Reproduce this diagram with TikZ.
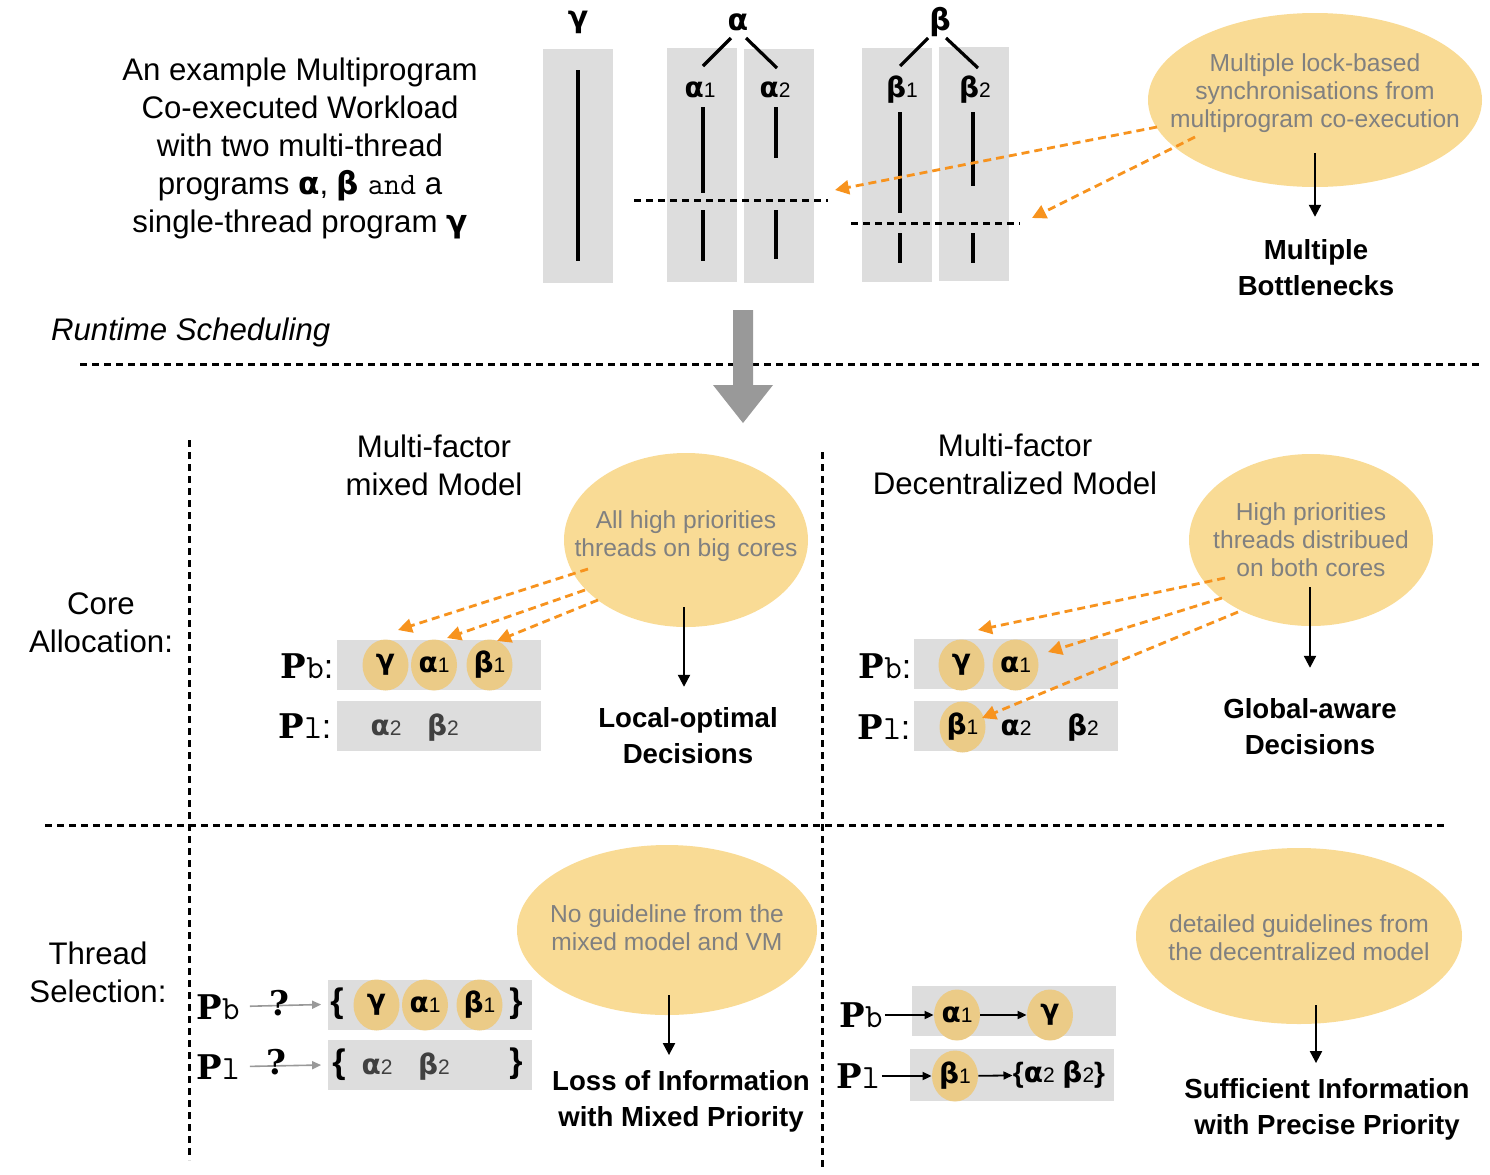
\documentclass[tikz,border=0pt]{standalone}
\usepackage{fontspec}
\setmainfont{Liberation Sans}
\newfontfamily\slabfont{DejaVu Serif}
\newfontfamily\grkfont{DejaVu Sans}
\usetikzlibrary{shapes.geometric,arrows.meta,positioning}

\definecolor{noteyellow}{HTML}{F9DB95}
\definecolor{thryellow}{HTML}{EBCB87}
\definecolor{lanegray}{HTML}{DDDDDD}
\definecolor{notegray}{HTML}{808080}
\definecolor{hintorange}{HTML}{F7931E}
\definecolor{bigarrowgray}{HTML}{999999}

% thread label: bold greek letter + small index
\newcommand{\thd}[2]{{\grkfont\bfseries #1}{\fontsize{10.5}{10.5}\selectfont #2}}
% core label: slab P + typewriter index
\newcommand{\core}[2]{{\slabfont\bfseries P}{\ttfamily #1}#2}

\tikzset{
  note/.style={ellipse, fill=noteyellow, inner sep=0pt},
  notetext/.style={text=notegray, align=center, font=\fontsize{12.3}{14}\selectfont},
  verdict/.style={align=center, font=\bfseries\fontsize{13.8}{18}\selectfont},
  head/.style={align=center, font=\fontsize{15.6}{19}\selectfont},
  bar/.style={fill=lanegray, minimum width=35pt, minimum height=117pt, inner sep=0pt},
  lane/.style={fill=lanegray, minimum width=102pt, minimum height=25pt, inner sep=0pt},
  thr/.style={ellipse, fill=thryellow, minimum width=23pt, minimum height=25.5pt, inner sep=0pt, font=\fontsize{14}{14}\selectfont},
  thrtxt/.style={inner sep=0pt, font=\fontsize{14}{14}\selectfont},
  corelbl/.style={inner sep=1pt, font=\fontsize{17}{17}\selectfont},
  hint/.style={hintorange, line width=1.4pt, dash pattern=on 4pt off 2.5pt, -{Triangle[length=7pt,width=7pt]}},
  down/.style={line width=1.1pt, -{Triangle[length=6pt,width=6pt]}},
  pass/.style={line width=0.9pt, -{Triangle[length=4.5pt,width=4pt]}},
  ask/.style={bigarrowgray, line width=0.8pt, -{Triangle[length=4.5pt,width=4pt]}},
  sep/.style={line width=1.5pt, dash pattern=on 3.5pt off 2.5pt},
  seam/.style={line width=1.6pt},
}

\begin{document}
\begin{tikzpicture}[x=0.5pt,y=-0.5pt]
  \useasboundingbox (0,0) rectangle (1490,1174);

  % ---- workload ----
  \node[head] (intro) at (300,148) {An example Multiprogram\\Co-executed Workload\\with two multi-thread\\programs {\grkfont\bfseries α}, {\grkfont\bfseries β} {\ttfamily and} a\\single-thread program {\grkfont\bfseries γ}};

  \node[bar] (bargamma) at (578,166) {};
  \node[bar] (baralphaa) at (702,164.5) {};
  \node[bar] (baralphab) at (779,166) {};
  \node[bar] (barbetaa) at (897,164.5) {};
  \node[bar] (barbetab) at (974,164) {};

  \node[font=\grkfont\bfseries\fontsize{15}{15}\selectfont] (gamma) at (578,22) {γ};
  \node[font=\grkfont\bfseries\fontsize{15}{15}\selectfont] (alpha) at (738,22) {α};
  \node[font=\grkfont\bfseries\fontsize{15}{15}\selectfont] (beta) at (940,22) {β};
  \node[thrtxt] (alphaa) at (700,90) {\thd{α}{1}};
  \node[thrtxt] (alphab) at (775,90) {\thd{α}{2}};
  \node[thrtxt] (betaa) at (902,90) {\thd{β}{1}};
  \node[thrtxt] (betab) at (975,90) {\thd{β}{2}};

  \draw[seam] (alpha.center) ++(-7,16) -- ++(-28,28);
  \draw[seam] (alpha.center) ++(8,16) -- ++(31,30);
  \draw[seam] (beta.center) ++(-12,16) -- ++(-28,28);
  \draw[seam] (beta.center) ++(6,16) -- ++(32,30);

  % thread timelines
  \draw[seam] (578,70) -- (578,261);
  \draw[seam] (703,107) -- (703,193) (703,210) -- (703,261);
  \draw[seam] (776,107) -- (776,158) (776,210) -- (776,259);
  \draw[seam] (900,112) -- (900,213) (900,233) -- (900,263);
  \draw[seam] (973,112) -- (973,186) (973,233) -- (973,263);
  \draw[sep] (634,200) -- (828,200);
  \draw[sep] (851,223) -- (1020,223);

  \node[note, minimum width=167pt, minimum height=87pt] (syncnote) at (1315,100) {};
  \node[notetext] (synctext) at (1315,93) {Multiple lock-based\\synchronisations from\\multiprogram co-execution};
  \node[verdict] (bneck) at (1316,268) {Multiple\\Bottlenecks};
  \coordinate (syncout) at (1315,153);
  \draw[down, shorten >=8pt] (syncout) -- (syncout |- bneck.north);

  \coordinate (locka) at (835,190);
  \coordinate (lockb) at (1032,218);
  \draw[hint] (1157,127) -- (locka);
  \draw[hint] (1195,137) -- (lockb);

  % ---- runtime scheduling ----
  \node[anchor=west, font=\itshape\fontsize{15.6}{19}\selectfont] (runtime) at (44,332) {Runtime Scheduling};
  \draw[sep] (80,364) -- (1480,364);
  \fill[bigarrowgray] (733,310) -- (753,310) -- (753,385) -- (773,385) -- (743,423) -- (713,385) -- (733,385) -- cycle;

  \draw[sep] (189,440) -- (189,1160);
  \draw[sep] (822,452) -- (822,1168);
  \draw[sep] (45,825) -- (1445,825);

  \node[head] (mixed) at (434,465) {Multi-factor\\mixed Model};
  \node[head] (decent) at (1015,464) {Multi-factor\\Decentralized Model};
  \node[head] (corealloc) at (101,623) {Core\\Allocation:};
  \node[head] (thrsel) at (98,972) {Thread\\Selection:};

  % ---- core allocation, mixed model ----
  \node[note, minimum width=122pt, minimum height=87pt] (mixnote) at (686,540) {};
  \node[notetext] (mixtext) at (686,536) {All high priorities\\threads on big cores};
  \node[verdict] (localopt) at (688,736) {Local-optimal\\Decisions};
  \coordinate (mixout) at (684,607);
  \draw[down, shorten >=7pt] (mixout) -- (mixout |- localopt.north);

  \node[lane] (laneab) at (439,665) {};
  \node[lane] (laneal) at (439,726) {};
  \node[corelbl] (pba) at (307,666) {\core{b}{:}};
  \node[corelbl] (pla) at (305,726) {\core{l}{:}};
  \node[thr] (ga) at (385.5,665) {\thd{γ}{}};
  \node[thr] (aaa) at (434,665) {\thd{α}{1}};
  \node[thr] (baa) at (489.5,665) {\thd{β}{1}};
  \node[thrtxt, text=black!75] (aba) at (386,728) {\thd{α}{2}};
  \node[thrtxt, text=black!75] (bba) at (443,728) {\thd{β}{2}};

  \coordinate (mixga) at (398,630);
  \coordinate (mixaa) at (447,638);
  \coordinate (mixba) at (497,641);
  \draw[hint] (588,569) -- (mixga);
  \draw[hint] (585,590) -- (mixaa);
  \draw[hint] (598,600) -- (mixba);

  % ---- core allocation, decentralized model ----
  \node[note, minimum width=122pt, minimum height=86pt] (decnote) at (1311,540) {};
  \node[notetext] (dectext) at (1311,540) {High priorities\\threads distribued\\on both cores};
  \node[verdict] (globalaw) at (1310,727) {Global-aware\\Decisions};
  \coordinate (decout) at (1310,587);
  \draw[down, shorten >=12pt] (decout) -- (decout |- globalaw.north);

  \node[lane] (laneb) at (1016,664) {};
  \node[lane] (lanebl) at (1016,726) {};
  \node[corelbl] (pbb) at (885,666) {\core{b}{:}};
  \node[corelbl] (plb) at (884,727) {\core{l}{:}};
  \node[thr] (gb) at (961.5,665) {\thd{γ}{}};
  \node[thr] (aab) at (1015.5,665) {\thd{α}{1}};
  \node[thr] (bab) at (962.5,727) {\thd{β}{1}};
  \node[thrtxt] (abb) at (1016,728) {\thd{α}{2}};
  \node[thrtxt] (bbb) at (1083,728) {\thd{β}{2}};

  \coordinate (decgb) at (978,630);
  \coordinate (decab) at (1048,652);
  \coordinate (decbb) at (982,718);
  \draw[hint] (1225,578) -- (decgb);
  \draw[hint] (1222,598) -- (decab);
  \draw[hint] (1238,612) -- (decbb);

  % ---- thread selection, mixed model ----
  \node[note, minimum width=150pt, minimum height=85pt] (lossnote) at (667,930) {};
  \node[notetext] (losstext) at (667,928) {No guideline from the\\mixed model and VM};
  \node[verdict] (loss) at (681,1101) {Loss of Information\\with Mixed Priority};
  \coordinate (lossout) at (669,995);
  \draw[down, shorten >=4pt] (lossout) -- (lossout |- loss.north);

  \node[lane] (lanecb) at (429.5,1004.5) {};
  \node[lane] (lanecl) at (429.5,1065) {};
  \node[corelbl] (pbc) at (218,1007) {\core{b}{}};
  \node[corelbl] (plc) at (218,1067) {\core{l}{}};
  \draw[ask, shorten <=4pt] (pbc) -- ([xshift=-3pt]lanecb.west);
  \draw[ask, shorten <=4pt] (plc) -- ([xshift=-3pt]lanecl.west);
  \node[corelbl, font=\slabfont\bfseries\fontsize{17}{17}\selectfont] (qb) at (279,1003) {?};
  \node[corelbl, font=\slabfont\bfseries\fontsize{17}{17}\selectfont] (ql) at (276,1062) {?};
  \node[corelbl, font=\bfseries\fontsize{17}{17}\selectfont] (obc) at (337,1004) {\{};
  \node[corelbl, font=\bfseries\fontsize{17}{17}\selectfont] (cbc) at (516,1004) {\}};
  \node[corelbl, font=\bfseries\fontsize{17}{17}\selectfont] (olc) at (339,1065) {\{};
  \node[corelbl, font=\bfseries\fontsize{17}{17}\selectfont] (clc) at (516,1064) {\}};
  \node[thr] (gc) at (376.5,1005) {\thd{γ}{}};
  \node[thr] (aac) at (425,1005) {\thd{α}{1}};
  \node[thr] (bac) at (479.5,1005) {\thd{β}{1}};
  \node[thrtxt, text=black!75] (abc) at (377,1067) {\thd{α}{2}};
  \node[thrtxt, text=black!75] (bbc) at (434,1067) {\thd{β}{2}};

  % ---- thread selection, decentralized model ----
  \node[note, minimum width=163pt, minimum height=88pt] (guidnote) at (1299,936) {};
  \node[notetext] (guidtext) at (1299,938) {detailed guidelines from\\the decentralized model};
  \node[verdict] (suff) at (1327,1109) {Sufficient Information\\with Precise Priority};
  \coordinate (guidout) at (1316,1005);
  \draw[down, shorten >=4pt] (guidout) -- (guidout |- suff.north);

  \node[lane] (lanedb) at (1013.5,1010.5) {};
  \node[lane, minimum height=26pt] (lanedl) at (1011.5,1075) {};
  \node[corelbl] (pbd) at (861,1015) {\core{b}{}};
  \node[corelbl] (pld) at (858,1076) {\core{l}{}};
  \node[thr] (aad) at (957,1015) {\thd{α}{1}};
  \node[thr] (gd) at (1050,1015) {\thd{γ}{}};
  \node[thr] (bad) at (955,1076) {\thd{β}{1}};
  \node[thrtxt] (restd) at (1059,1075) {{\bfseries\{}\thd{α}{2} \thd{β}{2}{\bfseries\}}};
  \draw[pass] (pbd) -- (aad);
  \draw[pass] (aad) -- (gd);
  \draw[pass] (pld) -- (bad);
  \draw[pass] (bad) -- (restd);
\end{tikzpicture}
\end{document}
